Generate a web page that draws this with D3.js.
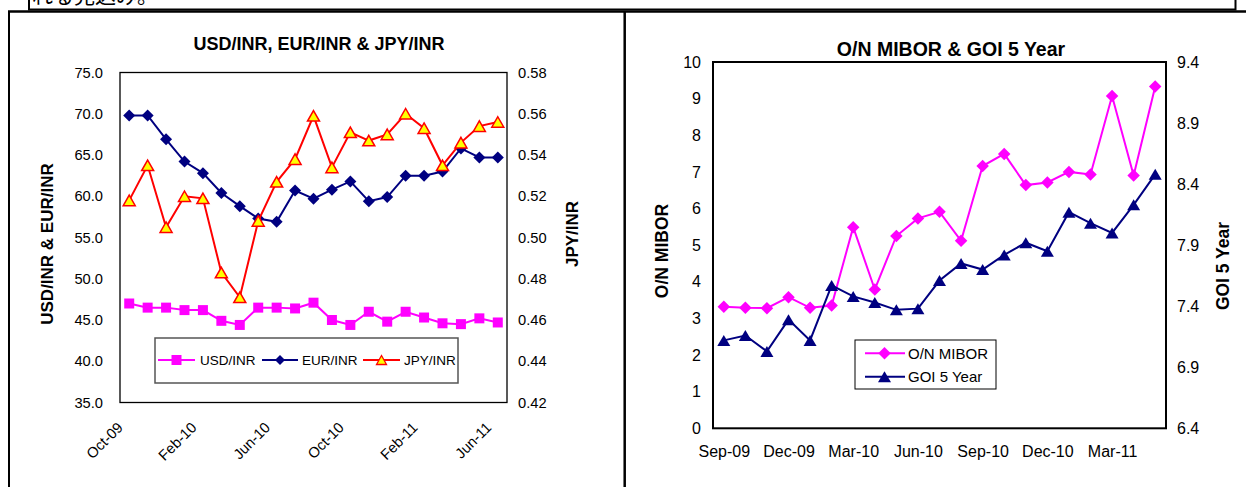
<html>
<head>
<script src="https://d3js.org/d3.v7.min.js"></script>
<style>
  body { margin: 0; background: #fff; }
  svg text { font-family: "Liberation Sans", Arial, sans-serif; fill: #000; }
  .axis .domain { display: none; }
</style>
</head>
<body>
<svg id="page" width="1246" height="487"></svg>
<script>
// ---- left chart: exchange rates ----
const fxMonths = ["Oct-09","Nov-09","Dec-09","Jan-10","Feb-10","Mar-10","Apr-10","May-10","Jun-10","Jul-10","Aug-10",
                  "Sep-10","Oct-10","Nov-10","Dec-10","Jan-11","Feb-11","Mar-11","Apr-11","May-11","Jun-11"];
const usdInr = [47.0,46.5,46.5,46.2,46.2,44.9,44.4,46.5,46.5,46.4,47.1,45.0,44.4,46.0,44.8,46.0,45.3,44.6,44.5,45.2,44.7];
const eurInr = [69.8,69.8,66.9,64.2,62.8,60.4,58.8,57.3,56.9,60.7,59.7,60.8,61.8,59.4,59.9,62.5,62.5,63.0,65.8,64.7,64.7];
const jpyInr = [0.518,0.535,0.505,0.520,0.519,0.483,0.471,0.508,0.527,0.538,0.559,0.534,0.551,0.547,0.550,0.560,0.553,0.535,0.546,0.554,0.556];
const fxLeftTicks = [35,40,45,50,55,60,65,70,75];
const fxRightTicks = [0.42,0.44,0.46,0.48,0.50,0.52,0.54,0.56,0.58];
const fxTickMonths = ["Oct-09","Feb-10","Jun-10","Oct-10","Feb-11","Jun-11"];

// ---- right chart: money market rates ----
const rateMonths = ["Sep-09","Oct-09","Nov-09","Dec-09","Jan-10","Feb-10","Mar-10","Apr-10","May-10","Jun-10","Jul-10",
                    "Aug-10","Sep-10","Oct-10","Nov-10","Dec-10","Jan-11","Feb-11","Mar-11","Apr-11","May-11"];
const mibor = [3.32,3.29,3.28,3.58,3.29,3.35,5.49,3.79,5.25,5.73,5.91,5.12,7.16,7.49,6.64,6.71,7.00,6.93,9.07,6.90,9.33];
const goi5y = [7.12,7.16,7.03,7.29,7.12,7.57,7.48,7.43,7.37,7.38,7.61,7.75,7.70,7.82,7.92,7.85,8.17,8.08,8.00,8.23,8.48];
const rateLeftTicks = [0,1,2,3,4,5,6,7,8,9,10];
const rateRightTicks = [6.4,6.9,7.4,7.9,8.4,8.9,9.4];
const rateTickMonths = ["Sep-09","Dec-09","Mar-10","Jun-10","Sep-10","Dec-10","Mar-11"];

const svg = d3.select("#page");

// marker shapes
const square = s => `M${-s/2},${-s/2}h${s}v${s}h${-s}Z`;
const diamond = w => `M0,${-w/2}L${w/2},0L0,${w/2}L${-w/2},0Z`;
const triangle = (w, h) => `M0,${-h/2}L${w/2},${h/2}L${-w/2},${h/2}Z`;

// page frame + text box on top (its text runs off the top of the page, as in the scan)
svg.append("text").attr("x", 32).attr("y", 3)
   .style("font-family", "'Noto Sans CJK JP', sans-serif").style("font-size", "21px")
   .text("れる見込み。");
svg.append("path").attr("d", "M29,-2V9.5H1235.5V-2").attr("fill", "none").attr("stroke", "#000").attr("stroke-width", 2);
svg.append("line").attr("x1", 8).attr("x2", 1246).attr("y1", 11.5).attr("y2", 11.5).attr("stroke", "#000").attr("stroke-width", 2.5);
svg.append("line").attr("x1", 9).attr("x2", 9).attr("y1", 11).attr("y2", 487).attr("stroke", "#000").attr("stroke-width", 2);
svg.append("line").attr("x1", 624.7).attr("x2", 624.7).attr("y1", 11).attr("y2", 487).attr("stroke", "#000").attr("stroke-width", 2.5);

function drawSeries(g, x, y, cats, vals, color, marker, fill, stroke, sw) {
  const line = d3.line().x((d, i) => x(cats[i])).y(d => y(d));
  g.append("path").datum(vals).attr("d", line)
   .attr("fill", "none").attr("stroke", color).attr("stroke-width", 2);
  g.selectAll(null).data(vals).join("path")
   .attr("transform", (d, i) => `translate(${x(cats[i])},${y(d)})`)
   .attr("d", marker).attr("fill", fill)
   .attr("stroke", stroke || "none").attr("stroke-width", sw || 0);
}

// ================= LEFT CHART =================
{
  const left = 120, right = 507, top = 72.5, bottom = 402.5;
  const x = d3.scalePoint().domain(fxMonths).range([left, right]).padding(0.5);
  const yL = d3.scaleLinear().domain([35, 75]).range([bottom, top]);
  const yR = d3.scaleLinear().domain([0.42, 0.58]).range([bottom, top]);
  const g = svg.append("g");

  g.append("text").attr("x", 319).attr("y", 50).attr("text-anchor", "middle")
   .style("font-weight", "bold").style("font-size", "18px").text("USD/INR, EUR/INR & JPY/INR");

  g.append("rect").attr("x", left).attr("y", top).attr("width", right - left).attr("height", bottom - top)
   .attr("fill", "none").attr("stroke", "#000").attr("stroke-width", 1.3);

  const axL = g.append("g").attr("class", "axis").attr("transform", `translate(${left},0)`)
    .call(d3.axisLeft(yL).tickValues(fxLeftTicks).tickFormat(d3.format(".1f")).tickSize(0).tickPadding(17));
  const axR = g.append("g").attr("class", "axis").attr("transform", `translate(${right},0)`)
    .call(d3.axisRight(yR).tickValues(fxRightTicks).tickFormat(d3.format(".2f")).tickSize(0).tickPadding(11));
  const axX = g.append("g").attr("class", "axis").attr("transform", `translate(0,${bottom})`)
    .call(d3.axisBottom(x).tickValues(fxTickMonths).tickSize(0));
  [axL, axR, axX].forEach(a => a.selectAll("text").style("font-size", "14.7px").attr("font-family", null));
  axX.selectAll("text").attr("y", 0).attr("dy", 0).attr("text-anchor", "end")
     .attr("transform", "translate(-6,26) rotate(-45)");

  g.append("text").attr("transform", "translate(53,244) rotate(-90)").attr("text-anchor", "middle")
   .style("font-weight", "bold").style("font-size", "17px").text("USD/INR & EUR/INR");
  g.append("text").attr("transform", "translate(578,234) rotate(-90)").attr("text-anchor", "middle")
   .style("font-weight", "bold").style("font-size", "17px").text("JPY/INR");

  drawSeries(g, x, yL, fxMonths, usdInr, "#ff00ff", square(10), "#ff00ff");
  drawSeries(g, x, yL, fxMonths, eurInr, "#000080", diamond(12), "#000080");
  drawSeries(g, x, yR, fxMonths, jpyInr, "#ff0000", triangle(12, 10.5), "#ffff00", "#ff0000", 1.5);

  // legend
  const lg = g.append("g");
  lg.append("rect").attr("x", 155).attr("y", 338).attr("width", 303).attr("height", 45)
    .attr("fill", "#fff").attr("stroke", "#555").attr("stroke-width", 1.5);
  const items = [
    {name: "USD/INR", color: "#ff00ff", x0: 158, x1: 195, tx: 200, m: square(10), fill: "#ff00ff"},
    {name: "EUR/INR", color: "#000080", x0: 262, x1: 298, tx: 302, m: diamond(10), fill: "#000080"},
    {name: "JPY/INR", color: "#ff0000", x0: 363, x1: 400, tx: 404, m: triangle(10, 9), fill: "#ffff00", stroke: "#ff0000"}
  ];
  const it = lg.selectAll("g").data(items).join("g");
  it.append("line").attr("x1", d => d.x0).attr("x2", d => d.x1).attr("y1", 360).attr("y2", 360)
    .attr("stroke", d => d.color).attr("stroke-width", 2);
  it.append("path").attr("transform", d => `translate(${(d.x0 + d.x1) / 2},360)`).attr("d", d => d.m)
    .attr("fill", d => d.fill).attr("stroke", d => d.stroke || "none").attr("stroke-width", 1.3);
  it.append("text").attr("x", d => d.tx).attr("y", 360).attr("dy", "0.35em")
    .style("font-size", "13.5px").text(d => d.name);
}

// ================= RIGHT CHART =================
{
  const left = 713, right = 1166, top = 62, bottom = 428.3;
  const x = d3.scalePoint().domain(rateMonths).range([left, right]).padding(0.5);
  const yL = d3.scaleLinear().domain([0, 10]).range([bottom, top]);
  const yR = d3.scaleLinear().domain([6.4, 9.4]).range([bottom, top]);
  const g = svg.append("g");

  g.append("text").attr("x", 951).attr("y", 56).attr("text-anchor", "middle")
   .style("font-weight", "bold").style("font-size", "19.5px").text("O/N MIBOR & GOI 5 Year");

  g.append("rect").attr("x", left).attr("y", top).attr("width", right - left).attr("height", bottom - top)
   .attr("fill", "none").attr("stroke", "#000").attr("stroke-width", 2);

  const axL = g.append("g").attr("class", "axis").attr("transform", `translate(${left},0)`)
    .call(d3.axisLeft(yL).tickValues(rateLeftTicks).tickFormat(d3.format("d")).tickSize(0).tickPadding(12));
  const axR = g.append("g").attr("class", "axis").attr("transform", `translate(${right},0)`)
    .call(d3.axisRight(yR).tickValues(rateRightTicks).tickFormat(d3.format(".1f")).tickSize(0).tickPadding(11));
  const axX = g.append("g").attr("class", "axis").attr("transform", `translate(0,${bottom})`)
    .call(d3.axisBottom(x).tickValues(rateTickMonths).tickSize(0));
  [axL, axR, axX].forEach(a => a.selectAll("text").style("font-size", "16px").attr("font-family", null));
  axX.selectAll("text").attr("y", 29).attr("dy", 0);

  g.append("text").attr("transform", "translate(668,251) rotate(-90)").attr("text-anchor", "middle")
   .style("font-weight", "bold").style("font-size", "17.5px").text("O/N MIBOR");
  g.append("text").attr("transform", "translate(1229,266) rotate(-90)").attr("text-anchor", "middle")
   .style("font-weight", "bold").style("font-size", "17.5px").text("GOI 5 Year");

  drawSeries(g, x, yL, rateMonths, mibor, "#ff00ff", diamond(12.5), "#ff00ff");
  drawSeries(g, x, yR, rateMonths, goi5y, "#000080", triangle(13, 11), "#000080");

  // legend
  const lg = g.append("g");
  lg.append("rect").attr("x", 855).attr("y", 340).attr("width", 141).attr("height", 49)
    .attr("fill", "#fff").attr("stroke", "#000").attr("stroke-width", 1);
  const items = [
    {name: "O/N MIBOR", color: "#ff00ff", y: 353.3, m: diamond(12.5)},
    {name: "GOI 5 Year", color: "#000080", y: 376.7, m: triangle(13, 11)}
  ];
  const it = lg.selectAll("g").data(items).join("g");
  it.append("line").attr("x1", 865).attr("x2", 905).attr("y1", d => d.y).attr("y2", d => d.y)
    .attr("stroke", d => d.color).attr("stroke-width", 2);
  it.append("path").attr("transform", d => `translate(884.5,${d.y})`).attr("d", d => d.m).attr("fill", d => d.color);
  it.append("text").attr("x", 908).attr("y", d => d.y).attr("dy", "0.35em")
    .style("font-size", "15px").text(d => d.name);
}
</script>
</body>
</html>
